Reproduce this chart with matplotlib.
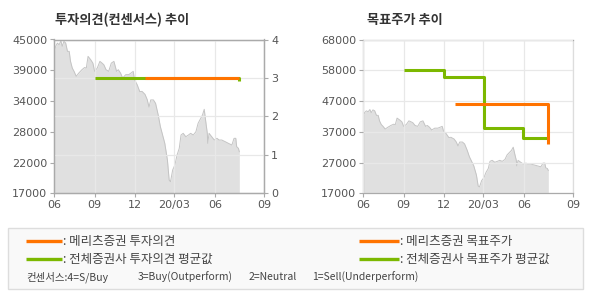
import pandas as pd
import matplotlib.pyplot as plt
from matplotlib.patches import Rectangle
from matplotlib.lines import Line2D

plt.rcParams['font.family'] = ['Noto Sans CJK KR', 'DejaVu Sans']

# daily close (approx.), Jun 2019 - Jul 2020
price_dates = ['2019-06-01', '2019-06-04', '2019-06-08', '2019-06-12', '2019-06-16',
               '2019-06-19', '2019-06-23', '2019-06-27', '2019-07-01', '2019-07-05',
               '2019-07-08', '2019-07-12', '2019-07-16', '2019-07-21', '2019-07-27',
               '2019-08-03', '2019-08-09', '2019-08-13', '2019-08-17', '2019-08-23',
               '2019-08-28', '2019-09-01', '2019-09-07', '2019-09-13', '2019-09-18',
               '2019-09-22', '2019-09-27', '2019-10-03', '2019-10-09', '2019-10-15',
               '2019-10-21', '2019-10-25', '2019-10-30', '2019-11-04', '2019-11-11',
               '2019-11-18', '2019-11-23', '2019-11-28', '2019-12-01', '2019-12-07',
               '2019-12-13', '2019-12-18', '2019-12-25', '2019-12-30', '2020-01-03',
               '2020-01-07', '2020-01-13', '2020-01-18', '2020-01-24', '2020-01-29',
               '2020-02-02', '2020-02-08', '2020-02-14', '2020-02-18', '2020-02-21',
               '2020-02-26', '2020-03-02', '2020-03-07', '2020-03-12', '2020-03-16',
               '2020-03-21', '2020-03-27', '2020-04-02', '2020-04-07', '2020-04-13',
               '2020-04-19', '2020-04-24', '2020-04-30', '2020-05-04', '2020-05-08',
               '2020-05-11', '2020-05-15', '2020-05-16', '2020-05-19', '2020-05-25',
               '2020-05-31', '2020-06-06', '2020-06-11', '2020-06-17', '2020-06-25',
               '2020-07-02', '2020-07-10', '2020-07-15', '2020-07-19', '2020-07-21',
               '2020-07-25', '2020-07-27']
price = [42840, 43750, 44350, 44050, 44770, 43750, 44660, 44350, 42840, 42840,
         41020, 39800, 39200, 38300, 38900, 39500, 39900, 39800, 41930, 41320,
         40700, 39200, 39800, 41020, 40700, 40400, 39500, 39200, 40700, 41020,
         39200, 39500, 38900, 37990, 38600, 38600, 38900, 39200, 37670, 36770,
         35500, 35560, 35000, 34040, 32700, 34000, 34000, 33380, 31250, 29120,
         27920, 26100, 23060, 19420, 19110, 21240, 22150, 23970, 25190, 27610,
         27920, 27300, 27610, 27920, 27610, 28210, 29740, 30650, 31250, 32290,
         30340, 27920, 26100, 27920, 27300, 26700, 27010, 26700, 26700, 26390,
         26100, 25790, 27010, 27010, 25480, 25190, 24570]

# investment opinion (4=S/Buy ... 1=Sell)
op_avg_dates = ['2019-09-01', '2020-07-27']
op_avg = [3.0, 2.93]
op_mer_dates = ['2019-12-26', '2020-07-27']
op_mer = [3.0, 3.0]

# target price
tp_avg_dates = ['2019-09-01', '2019-12-01', '2020-03-02', '2020-05-31', '2020-07-25']
tp_avg = [57800, 55500, 38800, 35500, 35500]
tp_mer_dates = ['2019-12-28', '2020-07-27']
tp_mer = [46500, 33500]

xtick_dates = ['2019-06-01', '2019-09-01', '2019-12-01', '2020-03-01', '2020-06-01', '2020-09-22']
xtick_labels = ['06', '09', '12', '20/03', '06', '09']
left_ylabels = ['17000', '22000', '28000', '34000', '39000', '45000']
right_ylabels = ['17000', '27000', '37000', '47000', '58000', '68000']

ORANGE = '#ff7300'
GREEN = '#7cb800'
FILL = '#e0e0e0'
EDGE = '#c4c4c4'
GRID = '#e8e8e8'
SPINE = '#aaaaaa'
TXT = '#555555'

pd_price = pd.to_datetime(price_dates)
xt = pd.to_datetime(xtick_dates)

W, H = 590, 300
fig = plt.figure(figsize=(W / 100, H / 100), dpi=100)


def box(x0, x1, y0, y1):
    return [x0 / W, 1 - y1 / H, (x1 - x0) / W, (y1 - y0) / H]


def style_axis(ax, ylo, yhi, ylabels):
    ax.set_xlim(xt[0], xt[-1])
    ax.set_ylim(ylo, yhi)
    ax.set_xticks(xt)
    ax.set_xticklabels(xtick_labels, family='DejaVu Sans')
    step = (yhi - ylo) / 5
    ax.set_yticks([ylo + step * k for k in range(6)])
    ax.set_yticklabels(ylabels, family='DejaVu Sans')
    ax.tick_params(length=3, width=0.8, color=SPINE, labelsize=8, labelcolor=TXT, pad=2)
    for s in ax.spines.values():
        s.set_color(SPINE)
        s.set_linewidth(0.9)
    ax.fill_between(pd_price, price, ylo, color=FILL, lw=0, zorder=1)
    ax.plot(pd_price, price, color=EDGE, lw=0.7, zorder=1.2)


# ---- left: investment opinion ----
ax1 = fig.add_axes(box(54.3, 264.3, 39.5, 193.3))
style_axis(ax1, 17000, 45000, left_ylabels)
ax1.set_axisbelow(False)
ax1.grid(axis='x', color=GRID, lw=0.9, zorder=2)
ax1r = ax1.twinx()
ax1r.set_ylim(0, 4)
ax1r.set_yticks([0, 1, 2, 3, 4])
ax1r.set_yticklabels(['0', '1', '2', '3', '4'], family='DejaVu Sans')
ax1r.tick_params(length=3, width=0.8, color=SPINE, labelsize=8, labelcolor=TXT, pad=2)
ax1r.grid(axis='y', color=GRID, lw=0.9)
for s in ax1r.spines.values():
    s.set_color(SPINE)
    s.set_linewidth(0.9)
ax1r.plot(pd.to_datetime(op_avg_dates), op_avg, color=GREEN, lw=2.2,
          drawstyle='steps-post', solid_capstyle='butt', zorder=3)
ax1r.plot(pd.to_datetime(op_mer_dates), op_mer, color=ORANGE, lw=2.2,
          drawstyle='steps-post', solid_capstyle='butt', zorder=4)
fig.text(55 / W, 1 - 20 / H, '투자의견(컨센서스) 추이', fontsize=9.5, fontweight='bold',
         color='#333333', va='center', ha='left')

# ---- right: target price ----
ax2 = fig.add_axes(box(363.3, 573.3, 39.5, 193.3))
style_axis(ax2, 17000, 68000, right_ylabels)
ax2.set_axisbelow(False)
ax2.grid(color=GRID, lw=0.9, zorder=2)
ax2.spines['right'].set_color('#dddddd')
ax2.plot(pd.to_datetime(tp_avg_dates), tp_avg, color=GREEN, lw=2.2,
         drawstyle='steps-post', solid_capstyle='butt', zorder=3)
ax2.plot(pd.to_datetime(tp_mer_dates), tp_mer, color=ORANGE, lw=2.2,
         drawstyle='steps-post', solid_capstyle='butt', zorder=4)
fig.text(367 / W, 1 - 20 / H, '목표주가 추이', fontsize=9.5, fontweight='bold',
         color='#333333', va='center', ha='left')

# ---- legend box ----
fig.patches.append(Rectangle((8 / W, 1 - 289 / H), 575 / W, 61 / H, transform=fig.transFigure,
                             facecolor='#f9f9f9', edgecolor='#dddddd', lw=1))
rows = [(26, 62, 241, ORANGE, ': 메리츠증권 투자의견'),
        (26, 62, 259, GREEN, ': 전체증권사 투자의견 평균값'),
        (359, 399, 241, ORANGE, ': 메리츠증권 목표주가'),
        (359, 399, 259, GREEN, ': 전체증권사 목표주가 평균값')]
for x0, x1, y, c, label in rows:
    fig.lines.append(Line2D([x0 / W, x1 / W], [1 - y / H, 1 - y / H], transform=fig.transFigure,
                            color=c, lw=2.4, solid_capstyle='butt'))
    fig.text((x1 + 1) / W, 1 - y / H, label, fontsize=9, color='#444444', va='center')

consensus = [(26, '컨센서스:4=S/Buy'), (138, '3=Buy(Outperform)'),
             (249, '2=Neutral'), (312, '1=Sell(Underperform)')]
for x, label in consensus:
    fig.text(x / W, 1 - 277 / H, label, fontsize=7.5, color='#444444', va='center')

fig.savefig('out.png', dpi=100)
